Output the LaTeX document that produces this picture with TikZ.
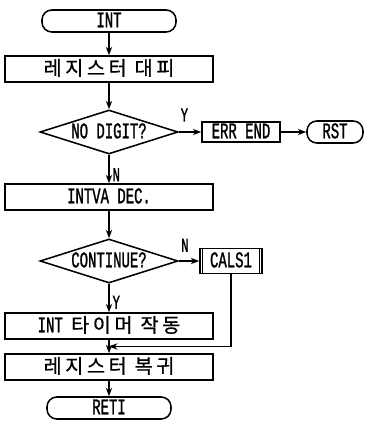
\documentclass[tikz,border=0pt]{standalone}
\usepackage{fontspec}
\setmainfont{Liberation Mono}[FakeStretch=0.62, FakeBold=1.2]
\newfontfamily\kr{Noto Sans CJK KR}[LetterSpace=18, FakeBold=0.8]
\usetikzlibrary{arrows.meta, shapes.geometric, calc}

\newcommand{\hg}[1]{{\kr\fontsize{14pt}{16pt}\selectfont #1}}

\begin{document}
\begin{tikzpicture}[x=0.025cm, y=-0.025cm, >={Stealth[length=6pt, width=4.5pt]},
    line width=1.1pt, font=\fontsize{16pt}{18pt}\selectfont,
    box/.style={draw, minimum width=5.2cm, minimum height=0.65cm, inner sep=0pt,
                text height=9pt, text depth=0pt},
    term/.style={draw, rounded corners=7pt, minimum height=0.55cm, inner sep=0pt,
                 text height=9pt, text depth=0pt},
    test/.style={draw, diamond, minimum width=3.45cm, minimum height=1.1cm, inner sep=0pt,
                 text height=9pt, text depth=0pt},
    lbl/.style={font=\fontsize{14pt}{16pt}\selectfont, inner sep=1pt}]
  \useasboundingbox (0,0) rectangle (364,422);
  \node[term, minimum width=3.35cm] (int) at (109,21) {INT};
  \node[box] (save) at (109,69) {\hg{레지스터 대피}};
  \node[test] (nodig) at (109,132) {\makebox[0pt]{NO DIGIT?}};
  \node[box, minimum width=1.95cm, minimum height=0.5cm] (err) at (241,132) {ERR END};
  \node[term, minimum width=1.4cm] (rst) at (335,132) {RST};
  \node[box] (dec) at (109,197) {INTVA DEC.};
  \node[test] (cont) at (109,261) {\makebox[0pt]{CONTINUE?}};
  \node[box, minimum width=1.55cm, minimum height=0.62cm] (cals) at (231,261) {CALS1};
  \draw ([xshift=2.2pt]cals.north west) -- ([xshift=2.2pt]cals.south west);
  \draw ([xshift=-2.2pt]cals.north east) -- ([xshift=-2.2pt]cals.south east);
  \node[box] (timer) at (109,326) {INT \hg{타이머 작동}};
  \node[box] (load) at (109,367) {\hg{레지스터 복귀}};
  \node[term, minimum width=3.1cm] (reti) at (109,408) {RETI};
  \draw[->] (int) -- (save);
  \draw[->] (save) -- (nodig);
  \draw[->] (nodig) -- (err) node[lbl, above=6pt, pos=.25] (yes1) {Y};
  \draw[->] (err) -- (rst);
  \draw[->] (nodig) -- (dec) node[lbl, right=1pt, pos=.7] (no1) {N};
  \draw[->] (dec) -- (cont);
  \draw[->] (cont) -- (cals) node[lbl, above=5pt, pos=.3] (no2) {N};
  \draw[->] (cont) -- (timer) node[lbl, right=1pt, pos=.65] (yes2) {Y};
  \draw[->] (timer) -- (load);
  \draw[->] (cals) |- ($(timer.south)!.5!(load.north)$);
  \draw[->] (load) -- (reti);
\end{tikzpicture}
\end{document}
